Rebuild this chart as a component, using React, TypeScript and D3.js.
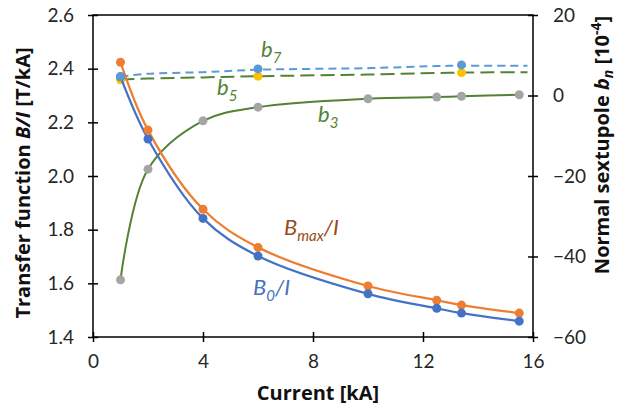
import React, { useRef, useEffect } from "react";
import * as d3 from "d3";

const current = [1, 2, 4, 6, 10, 12.5, 13.4, 15.5];
const b0 = [2.37, 2.138, 1.842, 1.702, 1.561, 1.507, 1.489, 1.459];
const bmax = [2.424, 2.171, 1.876, 1.734, 1.59, 1.537, 1.519, 1.489];
const b3 = [-45.8, -18.3, -6.3, -2.9, -0.8, -0.4, -0.2, 0.2];
const b5Line = [4.0, 4.2, 4.5, 4.8, 5.2, 5.6, 5.7, 5.8];
const b7Line = [4.7, 5.4, 5.8, 6.4, 6.8, 7.3, 7.4, 7.4];
const lineCurrent = [1, 2, 4, 6, 10, 12.5, 13.4, 15.8];
const markCurrent = [1, 6, 13.4];
const b5Marks = [3.9, 4.8, 5.7];
const b7Marks = [4.7, 6.6, 7.6];
const xTicks = [0, 4, 8, 12, 16];
const yLeftTicks = [1.4, 1.6, 1.8, 2.0, 2.2, 2.4, 2.6];
const yRightTicks = [-60, -40, -20, 0, 20];

const FONT = "Lato, 'Open Sans', sans-serif";
const TITLE_FONT = "'Open Sans', Lato, sans-serif";

function Chart() {
  const ref = useRef<SVGSVGElement>(null);
  useEffect(() => {
    document.body.style.margin = "0";
    const [width, height] = [621, 405];
    const m = { left: 93, right: 533, top: 15, bottom: 337 };
    const x = d3.scaleLinear().domain([0, 16]).range([m.left, m.right]);
    const yl = d3.scaleLinear().domain([1.4, 2.6]).range([m.bottom, m.top]);
    const yr = d3.scaleLinear().domain([-60, 20]).range([m.bottom, m.top]);

    const svg = d3.select(ref.current).attr("width", width).attr("height", height);
    svg.selectAll("*").remove();
    svg.append("rect").attr("width", width).attr("height", height).attr("fill", "#fff");

    // frame
    svg
      .append("rect")
      .attr("x", m.left)
      .attr("y", m.top)
      .attr("width", m.right - m.left)
      .attr("height", m.bottom - m.top)
      .attr("fill", "none")
      .attr("stroke", "#000")
      .attr("stroke-width", 1.5);

    const tickStyle = (g: any) =>
      g
        .call((g: any) => g.select(".domain").remove())
        .call((g: any) => g.selectAll("text").attr("font-family", FONT).attr("font-size", 19).attr("fill", "#262626"))
        .call((g: any) => g.selectAll("line").attr("stroke", "#000").attr("stroke-width", 1.5));

    svg
      .append("g")
      .attr("transform", `translate(0,${m.bottom})`)
      .call(d3.axisBottom(x).tickValues(xTicks).tickSizeInner(5).tickSizeOuter(0).tickPadding(13).tickFormat(d3.format("d")))
      .call(tickStyle)
      .call((g: any) => g.selectAll("line").attr("y1", -5));
    svg
      .append("g")
      .attr("transform", `translate(${m.left},0)`)
      .call(d3.axisLeft(yl).tickValues(yLeftTicks).tickSizeInner(5).tickSizeOuter(0).tickPadding(14).tickFormat(d3.format(".1f")))
      .call(tickStyle)
      .call((g: any) => g.selectAll("line").attr("x1", 5));
    svg
      .append("g")
      .attr("transform", `translate(${m.right},0)`)
      .call(d3.axisRight(yr).tickValues(yRightTicks).tickSizeInner(5).tickSizeOuter(0).tickPadding(15).tickFormat(d3.format("d")))
      .call(tickStyle)
      .call((g: any) => g.selectAll("line").attr("x1", -5));

    const curve = d3.curveCatmullRom.alpha(0.5);
    const lineL = d3.line<[number, number]>().x((d) => x(d[0])).y((d) => yl(d[1])).curve(curve);
    const lineR = d3.line<[number, number]>().x((d) => x(d[0])).y((d) => yr(d[1])).curve(curve);
    const zip = (xs: number[], ys: number[]) => xs.map((v, i) => [v, ys[i]] as [number, number]);

    // b7 dashed light blue
    svg.append("path").attr("d", lineR(zip(lineCurrent, b7Line)))
      .attr("fill", "none").attr("stroke", "#5B9BD5").attr("stroke-width", 2).attr("stroke-dasharray", "8,5");
    // b5 long dashed green
    svg.append("path").attr("d", lineR(zip(lineCurrent, b5Line)))
      .attr("fill", "none").attr("stroke", "#548235").attr("stroke-width", 2).attr("stroke-dasharray", "14,6");
    // b3 solid green
    svg.append("path").attr("d", lineR(zip(current, b3)))
      .attr("fill", "none").attr("stroke", "#548235").attr("stroke-width", 2);
    svg.append("g").selectAll("circle").data(zip(current, b3)).join("circle")
      .attr("cx", (d) => x(d[0])).attr("cy", (d) => yr(d[1])).attr("r", 4.5).attr("fill", "#A5A5A5");

    svg.append("g").selectAll("circle").data(zip(markCurrent, b5Marks)).join("circle")
      .attr("cx", (d) => x(d[0])).attr("cy", (d) => yr(d[1])).attr("r", 4.5).attr("fill", "#FFC000");

    // Bmax/I and B0/I
    svg.append("path").attr("d", lineL(zip(current, bmax)))
      .attr("fill", "none").attr("stroke", "#ED7D31").attr("stroke-width", 2.25);
    svg.append("path").attr("d", lineL(zip(current, b0)))
      .attr("fill", "none").attr("stroke", "#4472C4").attr("stroke-width", 2.25);
    svg.append("g").selectAll("circle").data(zip(current, bmax)).join("circle")
      .attr("cx", (d) => x(d[0])).attr("cy", (d) => yl(d[1])).attr("r", 4.5).attr("fill", "#ED7D31");
    svg.append("g").selectAll("circle").data(zip(current, b0)).join("circle")
      .attr("cx", (d) => x(d[0])).attr("cy", (d) => yl(d[1])).attr("r", 4.5).attr("fill", "#4472C4");
    svg.append("g").selectAll("circle").data(zip(markCurrent, b7Marks)).join("circle")
      .attr("cx", (d) => x(d[0])).attr("cy", (d) => yr(d[1])).attr("r", 4.5).attr("fill", "#5B9BD5");

    // series labels
    const label = (tx: number, ty: number, main: string, sub: string, rest: string, color: string) => {
      const t = svg.append("text").attr("x", tx).attr("y", ty).attr("font-family", FONT)
        .attr("font-size", 22).attr("font-style", "italic").attr("fill", color);
      t.append("tspan").text(main);
      t.append("tspan").attr("font-size", 15).attr("dy", 6).text(sub);
      if (rest) t.append("tspan").attr("dy", -6).text(rest);
    };
    label(261, 57, "b", "7", "", "#548235");
    label(217, 95, "b", "5", "", "#548235");
    label(318, 122, "b", "3", "", "#548235");
    label(284, 235, "B", "max", "/I", "#974A1B");
    label(253, 295, "B", "0", "/I", "#4472C4");

    // axis titles
    svg.append("text").attr("x", 318).attr("y", 400).attr("text-anchor", "middle")
      .attr("font-family", TITLE_FONT).attr("font-size", 20).attr("font-weight", "bold").attr("fill", "#111")
      .text("Current [kA]");

    const lt = svg.append("text").attr("transform", `translate(30,183) rotate(-90)`).attr("text-anchor", "middle")
      .attr("font-family", TITLE_FONT).attr("font-size", 20).attr("font-weight", "bold").attr("fill", "#111");
    lt.append("tspan").text("Transfer function ");
    lt.append("tspan").attr("font-style", "italic").text("B/I");
    lt.append("tspan").text(" [T/kA]");

    const rt = svg.append("text").attr("transform", `translate(609,145) rotate(-90)`).attr("text-anchor", "middle")
      .attr("font-family", TITLE_FONT).attr("font-size", 20).attr("font-weight", "bold").attr("fill", "#111");
    rt.append("tspan").text("Normal sextupole ");
    rt.append("tspan").attr("font-style", "italic").text("b");
    rt.append("tspan").attr("font-style", "italic").attr("font-size", 14).attr("dy", 4).text("n");
    rt.append("tspan").attr("dy", -4).text(" [10");
    rt.append("tspan").attr("font-size", 14).attr("dy", -8).text("-4");
    rt.append("tspan").attr("dy", 8).text("]");
  }, []);
  return <svg ref={ref} style={{ display: "block" }} />;
}

export default function App() {
  return <Chart />;
}
